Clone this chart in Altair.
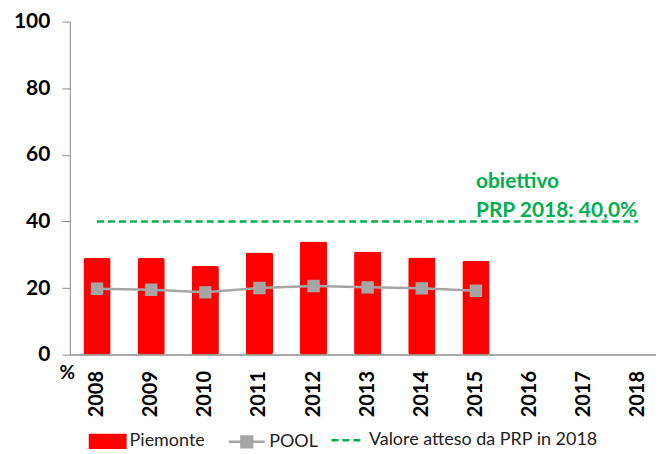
import altair as alt
import pandas as pd

years = ["2008", "2009", "2010", "2011", "2012", "2013", "2014", "2015", "2016", "2017", "2018"]
piemonte = [29.0, 29.0, 26.6, 30.7, 34.0, 31.0, 29.2, 28.2]
pool = [19.8, 19.5, 18.7, 20.0, 20.6, 20.2, 19.9, 19.2]
target = 40.0
y_ticks = [0, 20, 40, 60, 80, 100]
note_lines = ["obiettivo", "PRP 2018: 40,0%"]
note_y = [51.8, 43.2]
series = ["Piemonte", "POOL", "Valore atteso da PRP in 2018"]

FONT = "Lato"
GREEN = "#00B050"
RED = "#FF0000"
GREY = "#A6A6A6"

bars_df = pd.DataFrame({"anno": years[:len(piemonte)], "valore": piemonte, "serie": series[0]})
pool_df = pd.DataFrame({"anno": years[:len(pool)], "valore": pool, "serie": series[1]})
target_df = pd.DataFrame({"anno": years, "valore": [target] * len(years), "serie": series[2]})
note_df = pd.DataFrame({"anno": ["2015"] * 2, "valore": note_y, "testo": note_lines})

x_enc = alt.X("anno:N", sort=years,
              scale=alt.Scale(domain=years, paddingInner=0.497, paddingOuter=0.163, align=0.77),
              axis=alt.Axis(title=None, labelAngle=-90, labelFont=FONT, labelFontSize=20,
                            labelFontWeight="bold", labelColor="#000000", ticks=False,
                            labelPadding=16, domainColor="#8c8c8c", domainWidth=1.5,
                            labelAlign="right", labelBaseline="middle"))
y_scale = alt.Scale(domain=[0, 100], nice=False)
y_axis = alt.Axis(values=y_ticks, title="%", titleAngle=0, titleX=-3, titleY=352, titleFont=FONT,
                  titleFontSize=19, titleFontWeight="bold", titleColor="#000000",
                  titleAlign="center", titleBaseline="middle",
                  labelFont=FONT, labelFontSize=21, labelFontWeight="bold", labelColor="#000000",
                  tickSize=8, tickColor="#8c8c8c", labelPadding=12, domainColor="#8c8c8c",
                  grid=False)

LEG_Y = 402
leg_common = dict(title=None, orient="none", direction="horizontal", labelFont=FONT,
                  labelFontSize=18, labelColor="#222222", labelOffset=3, padding=0,
                  labelLimit=400, legendY=LEG_Y)

bars = alt.Chart(bars_df).mark_bar(cornerRadius=2).encode(
    x=x_enc,
    y=alt.Y("valore:Q", scale=y_scale, axis=y_axis),
    fill=alt.Fill("serie:N", scale=alt.Scale(domain=[series[0]], range=[RED]),
                  legend=alt.Legend(symbolType="M-1,-0.4H1V0.4H-1Z", symbolSize=1444,
                                    symbolStrokeWidth=0, legendX=19, **leg_common)),
)

pool_line = alt.Chart(pool_df).mark_line(
    strokeWidth=2.5,
    point=alt.OverlayMarkDef(shape="square", size=110, filled=True, color=GREY, opacity=1),
).encode(
    x=alt.X("anno:N", sort=years),
    y=alt.Y("valore:Q", scale=y_scale),
    stroke=alt.Stroke("serie:N", scale=alt.Scale(domain=[series[1]], range=[GREY]),
                      legend=alt.Legend(symbolType="M-1,0H1M-0.3,-0.3H0.3V0.3H-0.3Z",
                                        symbolSize=1296, symbolFillColor=GREY,
                                        symbolStrokeWidth=2.5, legendX=158, **leg_common)),
)

target_line = alt.Chart(target_df).mark_line(strokeWidth=2.5, color=GREEN).encode(
    x=alt.X("anno:N", sort=years),
    y=alt.Y("valore:Q", scale=y_scale),
    strokeDash=alt.StrokeDash("serie:N", scale=alt.Scale(domain=[series[2]], range=[[7, 4]]),
                              legend=alt.Legend(symbolType="stroke", symbolSize=1089,
                                                symbolStrokeColor=GREEN, symbolStrokeWidth=2.5,
                                                legendX=261, **leg_common)),
)

notes = alt.Chart(note_df).mark_text(align="left", baseline="middle", dx=0, font=FONT,
                                     fontSize=21, fontWeight="bold", color=GREEN).encode(
    x=alt.X("anno:N", sort=years),
    y=alt.Y("valore:Q", scale=y_scale),
    text="testo:N",
)

chart = alt.layer(bars, pool_line, target_line, notes).resolve_legend(
    fill="independent", stroke="independent", strokeDash="independent"
).properties(
    width=588, height=334,
    padding={"top": 2, "left": 5, "right": 0, "bottom": 0},
).configure_view(stroke=None)

chart.save("out.html", embed_options={"renderer": "svg", "actions": False})
